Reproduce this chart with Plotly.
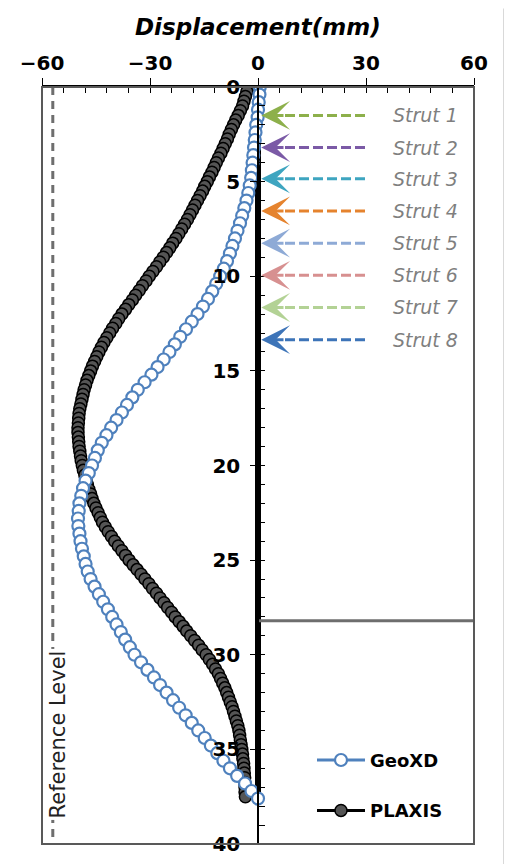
import plotly.graph_objects as go

# wall deflection profiles: depth (m) vs lateral displacement (mm)
plaxis_depth = [
    0.0, 0.25, 0.5, 0.75, 1.0, 1.25, 1.5, 1.75, 2.0, 2.25, 2.5, 2.75,
    3.0, 3.25, 3.5, 3.75, 4.0, 4.25, 4.5, 4.75, 5.0, 5.25, 5.5, 5.75,
    6.0, 6.25, 6.5, 6.75, 7.0, 7.25, 7.5, 7.75, 8.0, 8.25, 8.5, 8.75,
    9.0, 9.25, 9.5, 9.75, 10.0, 10.25, 10.5, 10.75, 11.0, 11.25, 11.5, 11.75,
    12.0, 12.25, 12.5, 12.75, 13.0, 13.25, 13.5, 13.75, 14.0, 14.25, 14.5, 14.75,
    15.0, 15.25, 15.5, 15.75, 16.0, 16.25, 16.5, 16.75, 17.0, 17.25, 17.5, 17.75,
    18.0, 18.25, 18.5, 18.75, 19.0, 19.25, 19.5, 19.75, 20.0, 20.25, 20.5, 20.75,
    21.0, 21.25, 21.5, 21.75, 22.0, 22.25, 22.5, 22.75, 23.0, 23.25, 23.5, 23.75,
    24.0, 24.25, 24.5, 24.75, 25.0, 25.25, 25.5, 25.75, 26.0, 26.25, 26.5, 26.75,
    27.0, 27.25, 27.5, 27.75, 28.0, 28.25, 28.5, 28.75, 29.0, 29.25, 29.5, 29.75,
    30.0, 30.25, 30.5, 30.75, 31.0, 31.25, 31.5, 31.75, 32.0, 32.25, 32.5, 32.75,
    33.0, 33.25, 33.5, 33.75, 34.0, 34.25, 34.5, 34.75, 35.0, 35.25, 35.5, 35.75,
    36.0, 36.25, 36.5, 36.75, 37.0, 37.25, 37.5,
]
plaxis_disp = [
    -2.8, -3.1, -3.5, -3.9, -4.3, -4.9, -5.5, -6.2, -6.8, -7.4, -8.0, -8.5,
    -9.1, -9.7, -10.3, -11.0, -11.6, -12.2, -12.8, -13.5, -14.1, -14.8, -15.4, -16.1,
    -16.8, -17.5, -18.2, -18.9, -19.6, -20.4, -21.2, -22.0, -22.8, -23.7, -24.5, -25.4,
    -26.3, -27.3, -28.2, -29.2, -30.2, -31.1, -32.1, -33.0, -34.0, -34.9, -35.9, -36.8,
    -37.8, -38.7, -39.5, -40.4, -41.2, -42.0, -42.8, -43.5, -44.2, -44.8, -45.4, -46.0,
    -46.5, -47.0, -47.5, -47.9, -48.3, -48.6, -48.9, -49.2, -49.5, -49.7, -49.8, -49.9,
    -50.0, -50.0, -49.9, -49.8, -49.7, -49.5, -49.3, -49.1, -48.8, -48.5, -48.1, -47.8,
    -47.4, -47.0, -46.5, -46.1, -45.6, -45.0, -44.4, -43.8, -43.2, -42.4, -41.6, -40.7,
    -39.8, -38.8, -37.8, -36.8, -35.8, -34.7, -33.6, -32.5, -31.4, -30.3, -29.3, -28.2,
    -27.2, -26.1, -25.1, -24.0, -23.0, -21.9, -20.8, -19.8, -18.7, -17.6, -16.5, -15.5,
    -14.4, -13.5, -12.6, -11.8, -11.0, -10.4, -9.8, -9.2, -8.7, -8.2, -7.7, -7.2,
    -6.8, -6.4, -6.0, -5.6, -5.3, -5.1, -4.9, -4.7, -4.5, -4.3, -4.2, -4.0,
    -3.9, -3.8, -3.7, -3.7, -3.6, -3.6, -3.5,
]

geoxd_depth = [
    0.0, 0.4, 0.8, 1.2, 1.6, 2.0, 2.4, 2.8, 3.2, 3.6, 4.0, 4.4, 4.8,
    5.2, 5.6, 6.0, 6.4, 6.8, 7.2, 7.6, 8.0, 8.4, 8.8, 9.2, 9.6, 10.0,
    10.4, 10.8, 11.2, 11.6, 12.0, 12.4, 12.8, 13.2, 13.6, 14.0, 14.4, 14.8,
    15.2, 15.6, 16.0, 16.4, 16.8, 17.2, 17.6, 18.0, 18.4, 18.8, 19.2, 19.6,
    20.0, 20.4, 20.8, 21.2, 21.6, 22.0, 22.4, 22.8, 23.2, 23.6, 24.0, 24.4,
    24.8, 25.2, 25.6, 26.0, 26.4, 26.8, 27.2, 27.6, 28.0, 28.4, 28.8, 29.2,
    29.6, 30.0, 30.4, 30.8, 31.2, 31.6, 32.0, 32.4, 32.8, 33.2, 33.6, 34.0,
    34.4, 34.8, 35.2, 35.6, 36.0, 36.4, 36.8, 37.2, 37.6,
]
geoxd_disp = [
    0.5, 0.4, 0.2, 0.0, -0.1, -0.5, -0.7, -0.9, -1.1, -1.3, -1.5, -1.7, -1.9,
    -2.3, -2.7, -3.2, -3.8, -4.4, -5.0, -5.7, -6.4, -7.1, -7.8, -8.6, -9.5, -10.5,
    -11.6, -12.7, -13.9, -15.3, -16.8, -18.4, -20.0, -21.6, -23.1, -24.6, -26.2, -27.9,
    -29.6, -31.5, -33.4, -34.9, -36.4, -37.8, -39.3, -40.8, -42.1, -43.4, -44.5, -45.3,
    -46.1, -47.0, -47.9, -48.6, -49.1, -49.6, -49.8, -50.0, -49.9, -49.6, -49.3, -48.9,
    -48.4, -47.9, -47.3, -46.5, -45.4, -44.2, -43.0, -41.7, -40.5, -39.3, -38.1, -36.9,
    -35.6, -34.3, -32.5, -30.7, -28.9, -27.2, -25.4, -23.6, -21.9, -20.1, -18.4, -16.6,
    -14.8, -13.1, -11.3, -9.6, -7.8, -5.8, -3.6, -1.8, 0.0,
]

strut_names = ["Strut 1", "Strut 2", "Strut 3", "Strut 4",
               "Strut 5", "Strut 6", "Strut 7", "Strut 8"]
strut_depth = [1.5, 3.2, 4.85, 6.55, 8.25, 9.95, 11.65, 13.35]
strut_colors = ["#8db04b", "#7b5aa6", "#3ea5c0", "#e5832e",
                "#8eaad6", "#d79090", "#b3d295", "#3d74b8"]

wall_bottom = 37.3
excavation_level = 28.2
reference_x = -57

FONT = "DejaVu Sans"

# the page body adds an 8px margin, so the figure is 8px smaller than the window
W, H = 504, 860
L, R, T, B = 32, 38, 79, 20

fig = go.Figure()

# retaining wall
fig.add_trace(go.Scatter(x=[0, 0], y=[0, wall_bottom], mode="lines",
                         line=dict(color="black", width=6),
                         showlegend=False, hoverinfo="skip"))

# excavation level
fig.add_trace(go.Scatter(x=[0, 60], y=[excavation_level, excavation_level],
                         mode="lines", line=dict(color="#6e6e6e", width=3),
                         showlegend=False, hoverinfo="skip"))

# reference level
fig.add_trace(go.Scatter(x=[reference_x, reference_x], y=[0, 40], mode="lines",
                         line=dict(color="#6e6e6e", width=3, dash="8px,6px"),
                         showlegend=False, hoverinfo="skip"))

# strut dashed lines
for d, c in zip(strut_depth, strut_colors):
    fig.add_trace(go.Scatter(x=[7.5, 30.7], y=[d, d], mode="lines",
                             line=dict(color=c, width=3, dash="10px,4px"),
                             showlegend=False, hoverinfo="skip"))

fig.add_trace(go.Scatter(
    x=plaxis_disp, y=plaxis_depth, mode="lines+markers", name="PLAXIS",
    line=dict(color="black", width=3),
    marker=dict(size=12, color="#555555", line=dict(color="black", width=1.5)),
    legendgroup="b", legendrank=2,
))
fig.add_trace(go.Scatter(
    x=geoxd_disp, y=geoxd_depth, mode="lines+markers", name="GeoXD",
    line=dict(color="#4f81bd", width=3),
    marker=dict(size=12, color="white", line=dict(color="#4f81bd", width=2.2)),
    legendgroup="a", legendrank=1,
))

annotations = []
for name, d, c in zip(strut_names, strut_depth, strut_colors):
    annotations.append(dict(
        x=0.9, y=d, ax=7.5, ay=d, xref="x", yref="y", axref="x", ayref="y",
        text="", showarrow=True, arrowhead=3, arrowsize=1.6, arrowwidth=3,
        arrowcolor=c,
    ))
    annotations.append(dict(
        x=46.5, y=d, xref="x", yref="y", text=name, showarrow=False,
        font=dict(family=FONT, size=19, color="#7f7f7f", style="italic"),
    ))

annotations.append(dict(
    x=-55.5, y=34.2, xref="x", yref="y", text="Reference Level",
    textangle=-90, showarrow=False, bgcolor="white",
    font=dict(family=FONT, size=21, color="#222222"),
))
annotations.append(dict(
    x=0.5, y=1.0, xref="paper", yref="paper", yshift=60, yanchor="middle",
    text="Displacement(mm)", showarrow=False,
    font=dict(family=FONT, size=23, color="black", style="italic", weight="bold"),
))

pw, ph = W - L - R, H - T - B

shapes = [
    dict(type="rect", xref="paper", yref="paper", x0=0, x1=1, y0=0, y1=1,
         line=dict(color="#595959", width=2)),
    # dark frame on the right edge of the picture
    dict(type="line", xref="paper", yref="paper",
         x0=(498 - L) / pw, x1=(498 - L) / pw,
         y0=-B / ph, y1=(H - B) / ph, line=dict(color="black", width=4)),
]

fig.update_layout(
    width=W, height=H,
    margin=dict(l=L, r=R, t=T, b=B),
    paper_bgcolor="white", plot_bgcolor="white",
    annotations=annotations, shapes=shapes,
    xaxis=dict(
        range=[-60, 60], side="top", tickvals=[-60, -30, 0, 30, 60],
        ticks="outside", ticklen=7, tickcolor="black",
        minor=dict(ticks="inside", dtick=6, ticklen=6, tickcolor="black"),
        showline=True, linecolor="black", linewidth=1.5,
        showgrid=False, zeroline=False,
        tickfont=dict(family=FONT, size=20, color="black", weight="bold"),
    ),
    yaxis=dict(
        range=[40, 0], anchor="free", position=0.5,
        tickvals=[0, 5, 10, 15, 20, 25, 30, 35, 40],
        ticks="outside", ticklen=7, tickcolor="black",
        minor=dict(ticks="inside", dtick=1, ticklen=6, tickcolor="black"),
        showline=True, linecolor="black", linewidth=1.5,
        showgrid=False, zeroline=False, ticklabelstandoff=6,
        tickfont=dict(family=FONT, size=20, color="black", weight="bold"),
    ),
    legend=dict(
        x=0.625, y=0.135, xanchor="left", yanchor="top",
        bgcolor="rgba(0,0,0,0)", itemwidth=48, tracegroupgap=24,
        font=dict(family=FONT, size=18, color="black", weight="bold"),
    ),
)

fig.write_html("out.html")
